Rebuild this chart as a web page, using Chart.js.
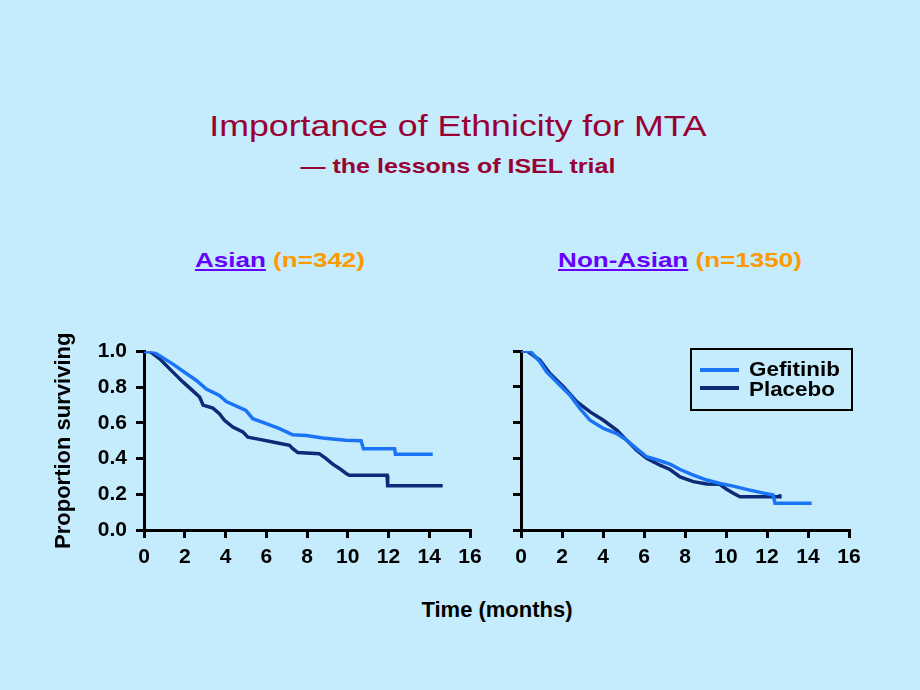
<!DOCTYPE html>
<html>
<head>
<meta charset="utf-8">
<script src="https://cdn.jsdelivr.net/npm/chart.js@4.4.0/dist/chart.umd.min.js"></script>
<style>
    body { margin: 0; background: #c4ecfd; font-family: 'Liberation Sans', Arial, sans-serif; }
    .slide { position: relative; width: 920px; height: 690px; overflow: hidden; }
    .title { position: absolute; top: 109px; left: 0; width: 916px; text-align: center; font-size: 30px; color: #990033; transform: scaleX(1.19); transform-origin: 458px 0; }
    .subtitle { position: absolute; top: 154px; left: 0; width: 916px; text-align: center; font-size: 21px; font-weight: bold; color: #990033; transform: scaleX(1.19); transform-origin: 458px 0; }
    .group { position: absolute; top: 248px; font-size: 21px; font-weight: bold; color: #ff9900; text-align: center; width: 300px; transform: scaleX(1.24); }
    .group u { color: #6600ff; }
    .chart-box { position: absolute; }
    .xtitle { position: absolute; top: 597px; left: 0; width: 994px; text-align: center; font-size: 22px; font-weight: bold; color: #000; }
    .legend { position: absolute; left: 690px; top: 348px; width: 159px; height: 59px; border: 2px solid #000; }
    .legend div { position: absolute; left: 57px; font-size: 20px; font-weight: bold; color: #000; transform: scaleX(1.12); transform-origin: 0 0; }
    .legend span { position: absolute; left: 8px; width: 39px; height: 4px; }
</style>
</head>
<body>
<div class="slide">
    <div class="title">Importance of Ethnicity for MTA</div>
    <div class="subtitle">&#8212; the lessons of ISEL trial</div>
    <div class="group" style="left:130px"><u>Asian</u> (n=342)</div>
    <div class="group" style="left:530px"><u>Non-Asian</u> (n=1350)</div>
    <div class="chart-box" style="left:40px; top:330px; width:450px; height:250px;"><canvas id="asianChart"></canvas></div>
    <div class="chart-box" style="left:480px; top:330px; width:400px; height:250px;"><canvas id="nonAsianChart"></canvas></div>
    <div class="xtitle">Time (months)</div>
    <div class="legend" id="legend"></div>
</div>
<script>
// Kaplan-Meier - Asian
const asianGefTime = [0, 0.44, 1.42, 2.57, 3.06, 3.7, 4.04, 5.0, 5.34, 6.0, 6.65, 7.3, 7.96, 8.77, 9.9, 10.65, 10.77, 12.3, 12.34, 14.17];
const asianGefSurv = [1.0, 1.0, 0.93, 0.838, 0.79, 0.754, 0.72, 0.67, 0.624, 0.596, 0.568, 0.534, 0.53, 0.516, 0.503, 0.5, 0.456, 0.456, 0.425, 0.425];
const asianPlaTime = [0, 0.3, 0.77, 1.42, 1.91, 2.4, 2.73, 2.9, 3.38, 3.7, 3.95, 4.36, 4.85, 5.1, 5.67, 6.32, 7.14, 7.3, 7.55, 8.6, 8.94, 9.26, 9.59, 9.92, 10.08, 11.93, 11.96, 14.66];
const asianPlaSurv = [1.0, 1.0, 0.96, 0.885, 0.83, 0.78, 0.745, 0.70, 0.683, 0.652, 0.615, 0.577, 0.55, 0.52, 0.508, 0.493, 0.475, 0.456, 0.434, 0.428, 0.4, 0.369, 0.345, 0.317, 0.307, 0.307, 0.248, 0.248];

// Kaplan-Meier - Non-Asian
const nonAsianGefTime = [0, 0.44, 0.93, 1.25, 1.9, 2.39, 2.88, 3.37, 4.02, 4.67, 5.15, 5.64, 6.13, 6.78, 7.27, 7.76, 8.41, 9.06, 9.7, 10.36, 11.0, 11.66, 12.3, 12.39, 14.18];
const nonAsianGefSurv = [1.0, 1.0, 0.939, 0.883, 0.809, 0.753, 0.678, 0.613, 0.567, 0.539, 0.502, 0.455, 0.409, 0.387, 0.368, 0.338, 0.307, 0.279, 0.26, 0.245, 0.227, 0.21, 0.195, 0.149, 0.149];
const nonAsianPlaTime = [0, 0.3, 0.93, 1.41, 2.07, 2.72, 3.37, 4.02, 4.67, 5.15, 5.64, 6.13, 6.78, 7.27, 7.76, 8.41, 9.06, 9.7, 10.03, 10.36, 10.68, 12.6, 12.63];
const nonAsianPlaSurv = [1.0, 1.0, 0.948, 0.874, 0.8, 0.717, 0.66, 0.613, 0.558, 0.502, 0.446, 0.4, 0.362, 0.338, 0.297, 0.27, 0.257, 0.255, 0.227, 0.205, 0.186, 0.186, 0.2];

const xTicks = [0, 2, 4, 6, 8, 10, 12, 14, 16];
const yTicks = [0.0, 0.2, 0.4, 0.6, 0.8, 1.0];
const seriesNames = ['Gefitinib', 'Placebo'];
const seriesColors = ['#1a74f5', '#0c2a78'];

const tickFont = { family: "'Liberation Sans', Arial, sans-serif", size: 21, weight: 'bold' };

function toPoints(xs, ys) {
    return xs.map((x, i) => ({ x: x, y: ys[i] }));
}

function makeChart(id, gef, pla, showYLabels, yWidth, padRight) {
    const ctx = document.getElementById(id).getContext('2d');
    return new Chart(ctx, {
        type: 'line',
        data: {
            datasets: [
                {
                    label: seriesNames[0],
                    data: gef,
                    borderColor: seriesColors[0],
                    borderWidth: 3.5,
                    pointRadius: 0,
                    tension: 0,
                    fill: false
                },
                {
                    label: seriesNames[1],
                    data: pla,
                    borderColor: seriesColors[1],
                    borderWidth: 3.5,
                    pointRadius: 0,
                    tension: 0,
                    fill: false
                }
            ]
        },
        options: {
            responsive: true,
            maintainAspectRatio: false,
            animation: false,
            layout: { padding: { top: 21, right: padRight, left: 0, bottom: 0 } },
            plugins: {
                legend: { display: false },
                tooltip: { enabled: false }
            },
            scales: {
                x: {
                    type: 'linear',
                    min: 0,
                    max: 16,
                    afterBuildTicks: scale => { scale.ticks = xTicks.map(v => ({ value: v })); },
                    afterFit: scale => { scale.height = 50; },
                    ticks: { color: '#000', font: tickFont, padding: 7, maxRotation: 0 },
                    grid: { drawOnChartArea: false, drawTicks: true, tickLength: 8, color: '#000', lineWidth: 3 },
                    border: { color: '#000', width: 3 }
                },
                y: {
                    min: 0,
                    max: 1,
                    afterBuildTicks: scale => { scale.ticks = yTicks.map(v => ({ value: v })); },
                    afterFit: scale => { scale.width = yWidth; },
                    ticks: {
                        display: showYLabels,
                        color: '#000',
                        font: tickFont,
                        padding: 9,
                        callback: v => v.toFixed(1)
                    },
                    title: {
                        display: showYLabels,
                        text: 'Proportion surviving',
                        color: '#000',
                        font: { family: "'Liberation Sans', Arial, sans-serif", size: 22, weight: 'bold' },
                        padding: { top: 11, bottom: 0 }
                    },
                    grid: { drawOnChartArea: false, drawTicks: true, tickLength: 8, color: '#000', lineWidth: 3 },
                    border: { color: '#000', width: 3 }
                }
            }
        }
    });
}

makeChart('asianChart', toPoints(asianGefTime, asianGefSurv), toPoints(asianPlaTime, asianPlaSurv), true, 104, 20);
makeChart('nonAsianChart', toPoints(nonAsianGefTime, nonAsianGefSurv), toPoints(nonAsianPlaTime, nonAsianPlaSurv), false, 41, 31);

// Legenda
const legend = document.getElementById('legend');
seriesNames.forEach((name, i) => {
    const line = document.createElement('span');
    line.style.top = (18 + i * 18) + 'px';
    line.style.background = seriesColors[i];
    legend.appendChild(line);
    const label = document.createElement('div');
    label.style.top = (8 + i * 20) + 'px';
    label.textContent = name;
    legend.appendChild(label);
});
</script>
</body>
</html>
